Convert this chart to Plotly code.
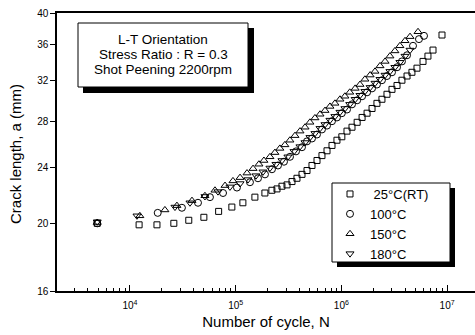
import plotly.graph_objects as go
import math

# ---------------- data ----------------
n_25 = [4900, 12200, 18000, 26000, 36000, 50000, 69000, 92000, 117000, 152000, 189000, 220000,
        246000, 274000, 306000, 341000, 380000, 424000, 473000, 527000, 588000, 655000, 731000,
        815000, 908000, 1.01e6, 1.13e6, 1.26e6, 1.41e6, 1.57e6, 1.75e6, 1.95e6, 2.17e6, 2.42e6,
        2.70e6, 3.01e6, 3.36e6, 3.74e6, 4.18e6, 4.65e6, 5.19e6, 5.92e6, 6.59e6, 7.36e6, 8.95e6]
a_25 = [20.0, 19.9, 19.9, 20.0, 20.2, 20.4, 20.8, 21.1, 21.4, 21.8, 22.1, 22.3,
        22.4, 22.6, 22.7, 22.95, 23.2, 23.5, 23.8, 24.2, 24.6, 25.0, 25.4,
        25.85, 26.3, 26.6, 27.1, 27.45, 27.9, 28.35, 28.75, 29.2, 29.7, 30.1,
        30.6, 31.1, 31.5, 32.05, 32.5, 32.9, 33.35, 34.1, 34.7, 35.4, 37.2]

n_100 = [4900, 18300, 31000, 44000, 57100, 75900, 102800, 136500, 162600, 189300, 220400, 251300,
         286400, 326300, 372000, 423700, 472800, 527100, 587500, 655100, 731100, 814700, 907800,
         1.01e6, 1.13e6, 1.26e6, 1.41e6, 1.57e6, 1.75e6, 1.95e6, 2.17e6, 2.42e6, 2.7e6, 3.01e6,
         3.36e6, 3.74e6, 4.18e6, 4.76e6, 5.42e6, 6.05e6]
a_100 = [20.0, 20.7, 21.05, 21.4, 21.8, 22.1, 22.5, 22.9, 23.2, 23.5, 23.9, 24.2,
         24.5, 24.9, 25.35, 25.7, 26.2, 26.45, 26.8, 27.25, 27.6, 28.0, 28.35,
         28.75, 29.1, 29.6, 30.0, 30.4, 30.8, 31.2, 31.6, 32.05, 32.5, 32.9,
         33.45, 34.1, 34.8, 35.9, 36.7, 37.1]

n_150 = [4900, 12400, 21400, 27800, 38600, 51200, 63700, 79300, 94300, 110000, 128000, 146000,
         166000, 185000, 211000, 235000, 262000, 292000, 326000, 364000, 406000, 453000, 504000,
         562000, 628000, 700000, 780000, 869000, 970000, 1.08e6, 1.2e6, 1.35e6, 1.5e6, 1.67e6,
         1.87e6, 2.08e6, 2.32e6, 2.59e6, 2.88e6, 3.21e6, 3.58e6, 4.0e6, 4.46e6, 5.31e6]
a_150 = [20.05, 20.5, 20.9, 21.2, 21.55, 21.9, 22.3, 22.65, 23.0, 23.25, 23.6, 23.95,
         24.3, 24.6, 24.9, 25.25, 25.6, 25.9, 26.3, 26.7, 27.1, 27.45, 27.9,
         28.3, 28.65, 29.0, 29.4, 29.7, 30.1, 30.4, 30.8, 31.2, 31.6, 32.15,
         32.6, 33.0, 33.6, 34.1, 34.7, 35.3, 35.9, 36.5, 37.0, 37.6]

n_180 = [4900, 11650, 26650, 36950, 51200, 68000, 88300, 110000, 130700, 155600, 181300, 211000,
         240600, 274000, 312000, 356100, 405600, 452600, 504400, 562300, 627800, 699800, 779800,
         868900, 970000, 1.08e6, 1.2e6, 1.35e6, 1.5e6, 1.67e6, 1.87e6, 2.08e6, 2.32e6, 2.59e6,
         2.88e6, 3.21e6, 3.58e6, 4.0e6, 4.46e6]
a_180 = [20.1, 20.5, 21.1, 21.4, 21.85, 22.2, 22.55, 22.8, 23.1, 23.4, 23.7, 24.0,
         24.3, 24.6, 24.9, 25.35, 25.75, 26.1, 26.55, 26.9, 27.35, 27.7, 28.1,
         28.45, 28.85, 29.2, 29.6, 30.1, 30.5, 30.9, 31.3, 31.75, 32.15, 32.6,
         33.0, 33.45, 34.0, 34.7, 35.4]

series_names = ["\u00a025\u00b0C(RT)", "100\u00b0C", "150\u00b0C", "180\u00b0C"]
y_ticks = [16, 20, 24, 28, 32, 36, 40]
x_ticks = [1e4, 1e5, 1e6, 1e7]
x_ticktext = ["10<sup>4</sup>", "10<sup>5</sup>", "10<sup>6</sup>", "10<sup>7</sup>"]
note_lines = ["L-T Orientation", "Stress Ratio : R = 0.3", "Shot Peening 2200rpm"]

# ---------------- layout geometry (pixels) ----------------
W, H = 475, 335
L, R, T, B = 57, 0, 13, 44
PW, PH = W - L - R, H - T - B


def px(x):
    return (x - L) / PW


def py(y):
    return (H - B - y) / PH


FONT = "Liberation Sans, Arial, Helvetica, sans-serif"

fig = go.Figure()
symbols = ["square-open", "circle-open", "triangle-up-open", "triangle-down-open"]
sizes = [6, 7, 7, 7]
for nn, aa, name, sym, sz in zip([n_25, n_100, n_150, n_180], [a_25, a_100, a_150, a_180],
                                 series_names, symbols, sizes):
    fig.add_trace(go.Scatter(x=nn, y=aa, mode="markers", name=name,
                             marker=dict(symbol=sym, size=sz, color="black",
                                         line=dict(color="black", width=1))))

minor_vals = []
for d in range(3, 8):
    for m in range(2, 10):
        minor_vals.append(m * 10 ** d)

fig.update_xaxes(type="log", range=[3 + math.log10(2.04), 7 + math.log10(1.837)],
                 showgrid=False, zeroline=False, showline=True, linecolor="black", linewidth=1.5,
                 mirror=True, ticks="inside", ticklen=6, tickwidth=1, tickcolor="black",
                 tickmode="array", tickvals=x_ticks, ticktext=x_ticktext,
                 tickfont=dict(family=FONT, size=10, color="black"), ticklabelstandoff=4,
                 minor=dict(tickmode="array", tickvals=minor_vals, ticks="inside", ticklen=3,
                            tickwidth=1, tickcolor="black", showgrid=False),
                 title=dict(text="Number of cycle, N", font=dict(family=FONT, size=15, color="black"),
                            standoff=7))
fig.update_yaxes(type="log", range=[math.log10(16), math.log10(40)],
                 showgrid=False, zeroline=False, showline=True, linecolor="black", linewidth=1.5,
                 ticks="outside", ticklen=5, tickwidth=1, tickcolor="black",
                 tickmode="array", tickvals=y_ticks, ticktext=[str(v) for v in y_ticks],
                 tickfont=dict(family=FONT, size=10, color="black"))

shapes = []
# annotation box with shadow
shapes.append(dict(type="rect", xref="paper", yref="paper", x0=px(83), x1=px(254), y0=py(93), y1=py(28),
                   fillcolor="black", line=dict(width=0), layer="below"))
shapes.append(dict(type="rect", xref="paper", yref="paper", x0=px(78), x1=px(248), y0=py(87), y1=py(23),
                   fillcolor="white", line=dict(color="black", width=1), layer="below"))
# legend box with shadow
shapes.append(dict(type="rect", xref="paper", yref="paper", x0=px(337), x1=px(455), y0=py(267), y1=py(188),
                   fillcolor="black", line=dict(width=0), layer="below"))
shapes.append(dict(type="rect", xref="paper", yref="paper", x0=px(332), x1=px(450), y0=py(262), y1=py(183),
                   fillcolor="white", line=dict(color="black", width=1), layer="below"))

annotations = []
for txt, yy in zip(note_lines, [40, 55, 70]):
    annotations.append(dict(text=txt, xref="paper", yref="paper", x=px(163), y=py(yy),
                            xanchor="center", yanchor="middle", showarrow=False,
                            font=dict(family=FONT, size=13.5, color="black")))
annotations.append(dict(text="Crack length, a (mm)", xref="paper", yref="paper", x=px(15), y=py(154),
                        xanchor="center", yanchor="middle", textangle=-90, showarrow=False,
                        font=dict(family=FONT, size=15, color="black")))

fig.update_layout(width=W, height=H, autosize=False,
                  margin=dict(l=L, r=R, t=T, b=B, pad=0),
                  paper_bgcolor="white", plot_bgcolor="white",
                  shapes=shapes, annotations=annotations,
                  showlegend=True,
                  legend=dict(x=px(330), y=py(179), xanchor="left", yanchor="top",
                              bgcolor="rgba(0,0,0,0)", borderwidth=0, tracegroupgap=0,
                              font=dict(family=FONT, size=13, color="black"),
                              itemclick=False, itemdoubleclick=False))

fig.write_html("out.html")
